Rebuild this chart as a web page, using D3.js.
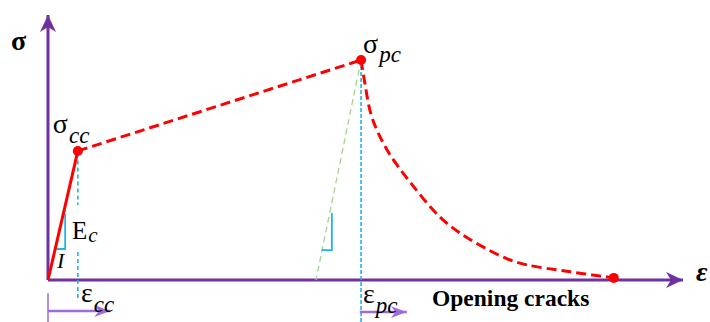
<!DOCTYPE html>
<html>
<head>
<meta charset="utf-8">
<script src="https://cdn.jsdelivr.net/npm/d3@7"></script>
<style>
body { margin:0; background:#fff; }
text { font-family: "Liberation Serif", "DejaVu Serif", serif; }
</style>
</head>
<body>
<div id="chart"></div>
<script>
var w = 710, h = 322;

// notional strain / stress units (not to scale)
var origin = [0, 0];
var crackPoint = [0.47, 4.87];      // sigma_cc, eps_cc
var peakPoint = [4.93, 8.30];       // sigma_pc, eps_pc
var softening = [[4.93, 8.30], [4.99, 7.43], [5.10, 6.15], [5.34, 4.91], [5.70, 3.70],
                 [6.17, 2.38], [6.49, 1.77], [6.85, 1.25], [7.23, 0.80], [7.54, 0.57],
                 [8.02, 0.38], [8.43, 0.24], [8.91, 0.08]];
var unloadFoot = [4.22, 0];
var axisMax = [10, 10];

var x = d3.scaleLinear().domain([0, axisMax[0]]).range([48, 683]);
var y = d3.scaleLinear().domain([0, axisMax[1]]).range([280, 15]);

var svg = d3.select('#chart').append('svg')
            .attr('width', w)
            .attr('height', h);

var defs = svg.append('defs');
function arrowMarker(id, color, len, half){
    defs.append('marker')
        .attr('id', id)
        .attr('markerUnits', 'userSpaceOnUse')
        .attr('viewBox', (-len) + ' ' + (-half) + ' ' + len + ' ' + (2*half))
        .attr('refX', 0).attr('refY', 0)
        .attr('markerWidth', len).attr('markerHeight', 2*half)
        .attr('orient', 'auto')
      .append('path')
        .attr('d', 'M0,0 L' + (-len) + ',' + (-half) + ' L' + (-len*0.7) + ',0 L' + (-len) + ',' + half + 'Z')
        .attr('fill', color);
}
arrowMarker('axisArrow', '#7030A0', 17, 8);
arrowMarker('smallArrow', '#9F6BD6', 16, 6);

var line = d3.line().x(function(d){ return x(d[0]); }).y(function(d){ return y(d[1]); });
var smooth = d3.line().x(function(d){ return x(d[0]); }).y(function(d){ return y(d[1]); })
               .curve(d3.curveCatmullRom.alpha(0.5));

// axes
svg.append('path')
    .attr('d', line([origin, [axisMax[0], 0]]))
    .attr('stroke', '#7030A0').attr('stroke-width', 3).attr('fill', 'none')
    .attr('marker-end', 'url(#axisArrow)');
svg.append('path')
    .attr('d', line([origin, [0, axisMax[1]]]))
    .attr('stroke', '#7030A0').attr('stroke-width', 3).attr('fill', 'none')
    .attr('marker-end', 'url(#axisArrow)');

// guide lines
var blue = '#1FB4EA';
svg.append('path').attr('d', line([[crackPoint[0], crackPoint[1] - 0.1], [crackPoint[0], 2.83]]))
    .attr('stroke', blue).attr('stroke-width', 1.6).attr('stroke-dasharray', '4,3').attr('fill', 'none');
svg.append('path').attr('d', line([[crackPoint[0], 1.06], [crackPoint[0], -0.8]]))
    .attr('stroke', blue).attr('stroke-width', 1.6).attr('stroke-dasharray', '4,3').attr('fill', 'none');
svg.append('path').attr('d', line([peakPoint, [peakPoint[0], -1.6]]))
    .attr('stroke', blue).attr('stroke-width', 1.6).attr('stroke-dasharray', '4,2').attr('fill', 'none');
svg.append('path').attr('d', line([peakPoint, unloadFoot]))
    .attr('stroke', '#A9D18E').attr('stroke-width', 1.3).attr('stroke-dasharray', '6,4').attr('fill', 'none');

// slope markers
svg.append('path').attr('d', line([[0.27, 2.49], [0.27, 1.17], [0.13, 1.17]]))
    .attr('stroke', blue).attr('stroke-width', 1.8).attr('fill', 'none');
svg.append('path').attr('d', line([[4.47, 2.53], [4.47, 1.13], [4.31, 1.13]]))
    .attr('stroke', blue).attr('stroke-width', 1.8).attr('fill', 'none');

// curve
svg.append('path').attr('d', line([origin, crackPoint]))
    .attr('stroke', '#FF0000').attr('stroke-width', 3).attr('fill', 'none');
svg.append('path').attr('d', line([crackPoint, peakPoint]))
    .attr('stroke', '#FF0000').attr('stroke-width', 3).attr('stroke-dasharray', '10,5').attr('fill', 'none');
svg.append('path').attr('d', smooth(softening))
    .attr('stroke', '#FF0000').attr('stroke-width', 3).attr('stroke-dasharray', '10,5').attr('fill', 'none');

svg.selectAll('circle.pt')
    .data([crackPoint, peakPoint, softening[softening.length - 1]])
    .enter().append('circle')
    .attr('class', 'pt')
    .attr('cx', function(d){ return x(d[0]); })
    .attr('cy', function(d){ return y(d[1]); })
    .attr('r', 5)
    .attr('fill', '#FF0000');

// strain range arrows under the axis
svg.append('path').attr('d', line([[0, -0.5], [0, -1.6]]))
    .attr('stroke', '#9F6BD6').attr('stroke-width', 1.5);
svg.append('path').attr('d', line([[0, -1.17], [0.98, -1.17]]))
    .attr('stroke', '#9F6BD6').attr('stroke-width', 2.5).attr('marker-end', 'url(#smallArrow)');
svg.append('path').attr('d', line([[peakPoint[0] - 0.02, -1.21], [5.65, -1.21]]))
    .attr('stroke', '#9F6BD6').attr('stroke-width', 2.5).attr('marker-end', 'url(#smallArrow)');

// labels
function label(px, py, main, sub, size, subSize, dy){
    var t = svg.append('text').attr('x', px).attr('y', py).attr('font-size', size).attr('fill', '#000');
    t.append('tspan').text(main);
    if (sub) t.append('tspan').attr('font-style', 'italic').attr('font-size', subSize).attr('dx', 1).attr('dy', dy).text(sub);
    return t;
}
label(x(crackPoint[0]) - 25, y(crackPoint[1]) - 18, 'σ', 'cc', 28, 23, 10);
label(x(peakPoint[0]) + 2, y(peakPoint[1]) - 7, 'σ', 'pc', 28, 23, 9);
label(72, 239, 'E', 'c', 25, 21, 3);
svg.append('text').attr('x', 57).attr('y', 268).attr('font-size', 22).attr('font-style', 'italic').text('I');
label(81, 302, 'ε', 'cc', 28, 23, 10);
label(363, 303, 'ε', 'pc', 28, 23, 10);
svg.append('text').attr('x', 432).attr('y', 306).attr('font-size', 23.5).attr('font-weight', 'bold').text('Opening cracks');
svg.append('text').attr('x', 11).attr('y', 50).attr('font-size', 28).attr('font-weight', 'bold').text('σ');
svg.append('text').attr('x', 696).attr('y', 281).attr('font-size', 28).attr('font-weight', 'bold').attr('font-style', 'italic').text('ε');
</script>
</body>
</html>
